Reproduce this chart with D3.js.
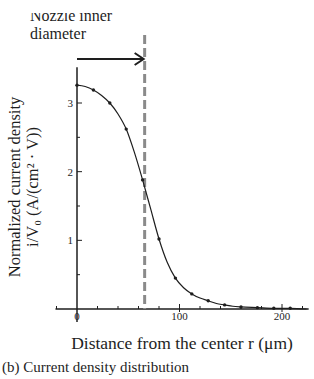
<!DOCTYPE html>
<html><head><meta charset="utf-8">
<script src="https://cdn.jsdelivr.net/npm/d3@7"></script>
<style>html,body{margin:0;padding:0;background:#fff;}svg{display:block;}</style>
</head><body>
<svg id="c" width="314" height="379"></svg>
<script>
// ---- data ----
const curveR = [0, 8, 16, 24, 32, 40, 48, 56, 64, 72, 80, 88, 96, 104, 112, 120, 128, 136, 144, 152, 160, 176, 192, 208, 224];
const curveV = [3.26, 3.24, 3.19, 3.11, 3.00, 2.84, 2.62, 2.28, 1.88, 1.45, 1.02, 0.68, 0.45, 0.31, 0.22, 0.16, 0.12, 0.08, 0.06, 0.04, 0.03, 0.02, 0.01, 0.01, 0.0];
const pointR = [0, 16, 32, 48, 64, 80, 96, 112, 128, 144, 160, 176, 192, 208];
const pointV = [3.26, 3.19, 3.00, 2.62, 1.88, 1.02, 0.45, 0.22, 0.12, 0.06, 0.03, 0.02, 0.01, 0.01];
const xMajorTicks = [0, 100, 200];
const xTickLabels = ["0", "100", "200"];
const yMajorTicks = [1, 2, 3];
const yTickLabels = ["1", "2", "3"];
const nozzleR = 66;
const xTitle = "Distance from the center r (\u03bcm)";
const yTitle1 = "Normalized current density";
const yTitle2 = "i/V\u2080 (A/(cm\u00b2 \u00b7 V))";
const caption = "(b) Current density distribution";
const noteLines = ["Nozzle inner", "diameter"];

const svg = d3.select("#c");
const font = "'Liberation Serif','Times New Roman',serif";
const ink = "#1e1e1e";

const x = d3.scaleLinear().domain([0, 200]).range([77, 282]);
const y = d3.scaleLinear().domain([0, 3]).range([309, 103]);

// x axis line (extends beyond data range)
svg.append("line").attr("x1", x(-21)).attr("x2", x(226)).attr("y1", y(0)).attr("y2", y(0))
  .attr("stroke", ink).attr("stroke-width", 1.3);
// y axis line
svg.append("line").attr("x1", x(0)).attr("x2", x(0)).attr("y1", y(3.52)).attr("y2", y(-0.19))
  .attr("stroke", ink).attr("stroke-width", 1.5);

// x minor ticks (every 20) and major
const xMinor = d3.range(-20, 221, 20).filter(v => v !== 0);
svg.append("g").selectAll("line").data(xMinor).join("line")
  .attr("x1", d => x(d)).attr("x2", d => x(d))
  .attr("y1", y(0)).attr("y2", d => y(0) - (xMajorTicks.includes(d) ? 5 : 3))
  .attr("stroke", ink).attr("stroke-width", 1);
svg.append("g").selectAll("line").data(xMajorTicks.filter(d => d !== 0)).join("line")
  .attr("x1", d => x(d)).attr("x2", d => x(d))
  .attr("y1", y(0)).attr("y2", y(0) + 3)
  .attr("stroke", ink).attr("stroke-width", 1);
// x tick labels
svg.append("g").selectAll("text").data(xMajorTicks).join("text")
  .attr("x", d => x(d)).attr("y", y(0) + 11)
  .attr("text-anchor", "middle").attr("font-family", font).attr("font-size", 11)
  .attr("fill", ink).text((d, i) => xTickLabels[i]);

// y ticks (inside, pointing right)
const yMinor = d3.range(0.5, 3.01, 0.5);
svg.append("g").selectAll("line").data(yMinor).join("line")
  .attr("x1", x(0)).attr("x2", d => x(0) + (yMajorTicks.includes(d) ? 5 : 3))
  .attr("y1", d => y(d)).attr("y2", d => y(d))
  .attr("stroke", ink).attr("stroke-width", 1);
svg.append("g").selectAll("text").data(yMajorTicks).join("text")
  .attr("x", x(0) - 4).attr("y", d => y(d) + 4)
  .attr("text-anchor", "end").attr("font-family", font).attr("font-size", 11)
  .attr("fill", ink).text((d, i) => yTickLabels[i]);

// nozzle dashed line
svg.append("line").attr("x1", x(nozzleR)).attr("x2", x(nozzleR))
  .attr("y1", 35).attr("y2", y(0))
  .attr("stroke", "#8a8a8a").attr("stroke-width", 3).attr("stroke-dasharray", "9,4");

// curve
const line = d3.line().x((d, i) => x(curveR[i])).y(d => y(d)).curve(d3.curveMonotoneX);
svg.append("path").datum(curveV).attr("d", line)
  .attr("fill", "none").attr("stroke", ink).attr("stroke-width", 1.2);
svg.append("g").selectAll("circle").data(pointV).join("circle")
  .attr("cx", (d, i) => x(pointR[i])).attr("cy", d => y(d)).attr("r", 1.7)
  .attr("fill", ink);

// arrow
const ay = 59;
svg.append("line").attr("x1", x(0)).attr("x2", x(nozzleR) - 1).attr("y1", ay).attr("y2", ay)
  .attr("stroke", ink).attr("stroke-width", 2);
svg.append("path")
  .attr("d", `M${x(nozzleR) - 10},${ay - 6} L${x(nozzleR) - 1},${ay} L${x(nozzleR) - 10},${ay + 6}`)
  .attr("fill", "none").attr("stroke", ink).attr("stroke-width", 2);

// note text (top line clipped at top, as in source)
svg.append("defs").append("clipPath").attr("id", "topclip")
  .append("rect").attr("x", 0).attr("y", 13).attr("width", 314).attr("height", 40);
const note = svg.append("g").attr("clip-path", "url(#topclip)");
note.selectAll("text").data(noteLines).join("text")
  .attr("x", 30).attr("y", (d, i) => 21 + i * 18)
  .attr("font-family", font).attr("font-size", 16).attr("fill", ink).text(d => d);

// axis titles
svg.append("text").attr("x", 182).attr("y", 349).attr("text-anchor", "middle")
  .attr("font-family", font).attr("font-size", 17.5).attr("fill", ink).text(xTitle);
svg.append("text").attr("transform", "translate(20,187) rotate(-90)").attr("text-anchor", "middle")
  .attr("font-family", font).attr("font-size", 16.5).attr("fill", ink).text(yTitle1);
svg.append("text").attr("transform", "translate(38,187) rotate(-90)").attr("text-anchor", "middle")
  .attr("font-family", font).attr("font-size", 16.5).attr("fill", ink).text(yTitle2);

svg.append("text").attr("x", 2).attr("y", 372)
  .attr("font-family", font).attr("font-size", 15).attr("fill", ink).text(caption);
</script>
</body></html>
